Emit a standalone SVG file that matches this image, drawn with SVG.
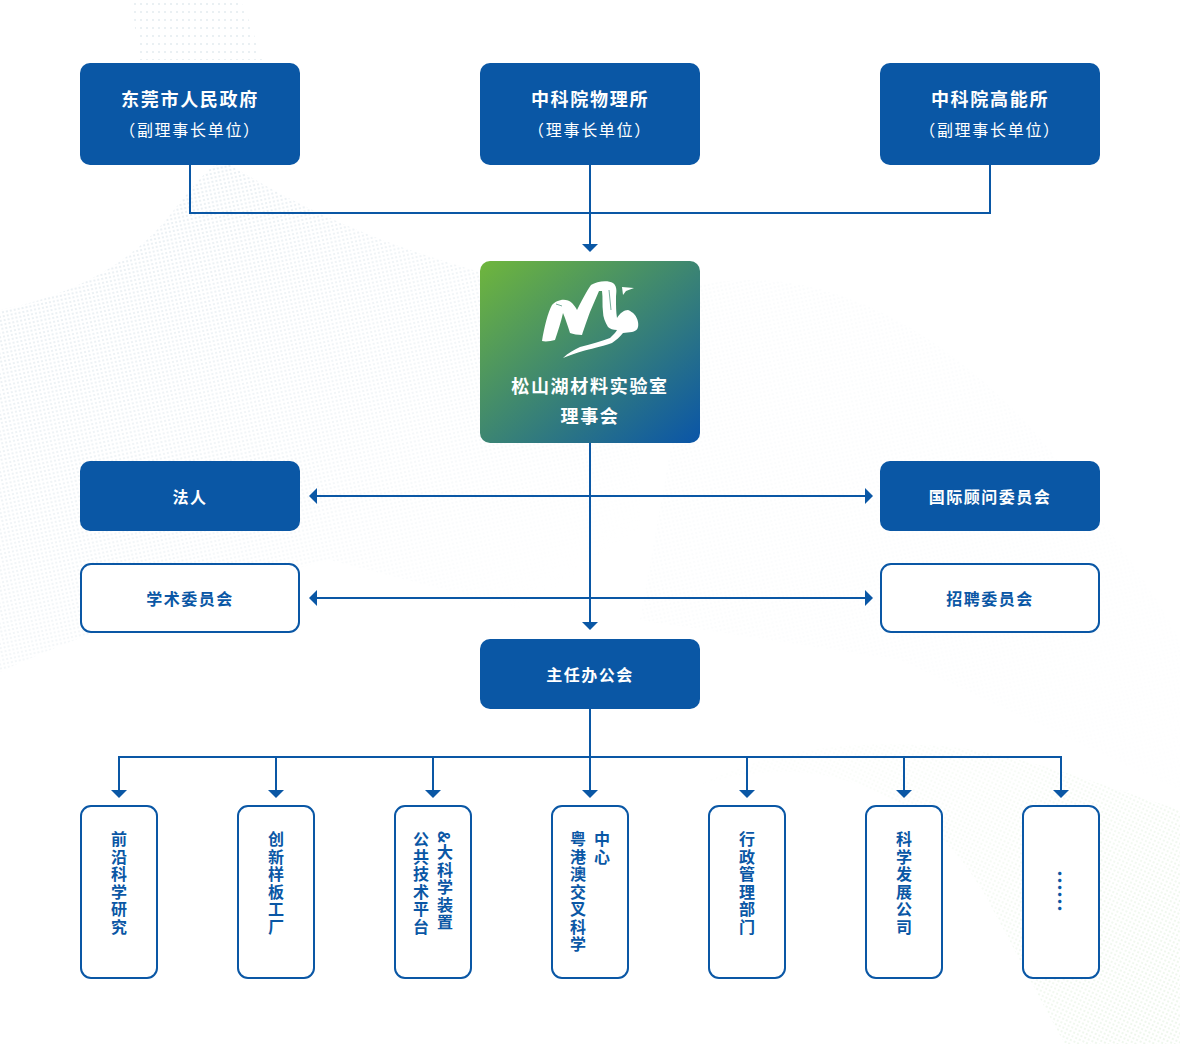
<svg xmlns="http://www.w3.org/2000/svg" width="1180" height="1044" viewBox="0 0 1180 1044">
<style>
text{font-family:"Noto Sans CJK SC","Noto Sans",sans-serif;text-anchor:middle}
.solid{fill:#0a57a5}
.out{fill:#fff;stroke:#0a57a5;stroke-width:2}
.t18{font-size:18px;font-weight:700;letter-spacing:1.7px;fill:#fff}
.s16{font-size:16px;letter-spacing:1.7px;fill:#fff}
.t16{font-size:16px;font-weight:700;letter-spacing:1.5px;fill:#fff}
.b16{font-size:16px;font-weight:700;letter-spacing:1.5px;fill:#0a57a5}
.v{font-size:16px;font-weight:700;letter-spacing:1.5px;fill:#0a57a5;writing-mode:vertical-rl;text-anchor:start}
.c{fill:none;stroke:#0a57a5;stroke-width:2}
.a{marker-end:url(#ah)}
.ab{marker-start:url(#ah);marker-end:url(#ah)}
</style>
<defs>
<marker id="ah" markerUnits="userSpaceOnUse" markerWidth="8" markerHeight="16" refX="0" refY="8" orient="auto-start-reverse"><path d="M0,0L8,8L0,16z" fill="#0a57a5"/></marker>
<linearGradient id="lg" x1="0" y1="0" x2="1" y2="1"><stop offset="0" stop-color="#6fb63c"/><stop offset="1" stop-color="#0a55a8"/></linearGradient>
<pattern id="d1" width="4" height="4" patternUnits="userSpaceOnUse" patternTransform="rotate(-12)"><circle cx="2" cy="2" r="1.1" fill="#d3dfe6"/></pattern>
<pattern id="d2" width="4" height="4" patternUnits="userSpaceOnUse" patternTransform="rotate(25)"><circle cx="2" cy="2" r="1.1" fill="#d6ead2"/></pattern>
<pattern id="d3" width="6" height="8" patternUnits="userSpaceOnUse"><circle cx="3" cy="4" r="1" fill="#e3ebef"/></pattern>
<linearGradient id="fa" gradientUnits="userSpaceOnUse" x1="100" y1="200" x2="420" y2="680"><stop offset="0" stop-color="#fff" stop-opacity=".6"/><stop offset=".55" stop-color="#fff" stop-opacity=".35"/><stop offset="1" stop-color="#fff" stop-opacity="0"/></linearGradient>
<linearGradient id="fb" gradientUnits="userSpaceOnUse" x1="700" y1="300" x2="1180" y2="800"><stop offset="0" stop-color="#fff" stop-opacity=".14"/><stop offset="1" stop-color="#fff" stop-opacity=".03"/></linearGradient>
<linearGradient id="fc" gradientUnits="userSpaceOnUse" x1="720" y1="760" x2="1120" y2="1040"><stop offset="0" stop-color="#fff" stop-opacity=".06"/><stop offset=".5" stop-color="#fff" stop-opacity=".25"/><stop offset="1" stop-color="#fff" stop-opacity=".5"/></linearGradient>
<mask id="ma" maskUnits="userSpaceOnUse" x="0" y="0" width="1180" height="1044"><rect width="1180" height="1044" fill="url(#fa)"/></mask>
<mask id="mb" maskUnits="userSpaceOnUse" x="0" y="0" width="1180" height="1044"><rect width="1180" height="1044" fill="url(#fb)"/></mask>
<mask id="mc" maskUnits="userSpaceOnUse" x="0" y="0" width="1180" height="1044"><rect width="1180" height="1044" fill="url(#fc)"/></mask>
</defs>
<rect width="1180" height="1044" fill="#fff"/>
<g id="background">
<path d="M132,0C134,20 136,40 140,60H262C256,40 248,15 240,0Z" fill="url(#d3)"/>
<path d="M0,310C70,296 130,265 170,215C190,190 205,170 222,160C280,195 350,235 480,272C540,295 600,330 640,400L640,640L330,560C210,590 90,630 0,672Z" fill="url(#d1)" mask="url(#ma)"/>
<path d="M700,285C820,260 950,330 1050,450C1110,530 1160,600 1180,640V790L900,660L640,620Z" fill="url(#d1)" mask="url(#mb)"/>
<path d="M700,785C830,745 930,800 985,895C1015,950 1040,1000 1065,1044H1180V810C1100,785 1040,760 960,748C860,738 770,748 700,785Z" fill="url(#d2)" mask="url(#mc)"/>
</g>
<g id="connectors">
<path class="c" d="M190,165V213H990V165"/>
<path class="c a" d="M590,165V244"/>
<path class="c a" d="M590,443V622"/>
<path class="c ab" d="M317,496H865"/>
<path class="c ab" d="M317,598H865"/>
<path class="c" d="M590,709V757"/>
<path class="c" d="M119,757H1061"/>
<path class="c a" d="M119,756V790"/>
<path class="c a" d="M276,757V790"/>
<path class="c a" d="M433,757V790"/>
<path class="c a" d="M590,757V790"/>
<path class="c a" d="M747,757V790"/>
<path class="c a" d="M904,757V790"/>
<path class="c a" d="M1061,756V790"/>
</g>
<g id="n-dongguan"><rect class="solid" x="80" y="63" width="220" height="102" rx="10"/><text class="t18" x="190" y="106">东莞市人民政府</text><text class="s16" x="190" y="136">（副理事长单位）</text></g>
<g id="n-iop"><rect class="solid" x="480" y="63" width="220" height="102" rx="10"/><text class="t18" x="590" y="106">中科院物理所</text><text class="s16" x="590" y="136">（理事长单位）</text></g>
<g id="n-ihep"><rect class="solid" x="880" y="63" width="220" height="102" rx="10"/><text class="t18" x="990" y="106">中科院高能所</text><text class="s16" x="990" y="136">（副理事长单位）</text></g>
<g id="n-council">
<rect x="480" y="261" width="220" height="182" rx="10" fill="url(#lg)"/>
<g id="logo" fill="#fff">
<path d="M542,341C544,328 548,312 552,305C556,300 566,297 572,303C574,305 576,308 577,310C581,302 586,292 591,285C597,281 608,280 613,283C618,287 616,293 616,298C616,306 616,312 617,318C620,313 624,310 628,310C633,312 637,316 638,322C639,328 637,331 632,332L623,333C620,337 616,340 612,343C600,347 590,349 583,351C575,353 569,356 563,358C568,353 574,350 580,347C592,344 602,341 610,338C613,335 616,332 617,330C613,330 610,329 608,327C605,322 603,317 603,312C602,305 603,298 602,291L599,291C596,298 593,305 590,312C587,320 584,329 582,335C578,335 573,334 570,333C568,327 566,320 563,313C561,322 558,331 555,340C551,341 546,342 542,341Z"/>
<path d="M622,287L634,288L626,291L623,295Z"/>
</g>
<path d="M609,290L611,310M562,306L556,304" stroke="#3f8c74" stroke-width=".7" fill="none"/>
<text class="t18" x="590" y="393">松山湖材料实验室</text><text class="t18" x="590" y="423">理事会</text>
</g>
<g id="n-legal"><rect class="solid" x="80" y="461" width="220" height="70" rx="10"/><text class="t16" x="190" y="503">法人</text></g>
<g id="n-advisory"><rect class="solid" x="880" y="461" width="220" height="70" rx="10"/><text class="t16" x="990" y="503">国际顾问委员会</text></g>
<g id="n-academic"><rect class="out" x="81" y="564" width="218" height="68" rx="10"/><text class="b16" x="190" y="605">学术委员会</text></g>
<g id="n-recruit"><rect class="out" x="881" y="564" width="218" height="68" rx="10"/><text class="b16" x="990" y="605">招聘委员会</text></g>
<g id="n-office"><rect class="solid" x="480" y="639" width="220" height="70" rx="10"/><text class="t16" x="590" y="681">主任办公会</text></g>
<g id="n-b1"><rect class="out" x="81" y="806" width="76" height="172" rx="10"/><text class="v" x="119" y="831">前沿科学研究</text></g>
<g id="n-b2"><rect class="out" x="238" y="806" width="76" height="172" rx="10"/><text class="v" x="276" y="831">创新样板工厂</text></g>
<g id="n-b3"><rect class="out" x="395" y="806" width="76" height="172" rx="10"/><text class="v" x="445" y="831">&amp;大科学装置</text><text class="v" x="421" y="831">公共技术平台</text></g>
<g id="n-b4"><rect class="out" x="552" y="806" width="76" height="172" rx="10"/><text class="v" x="602" y="831">中心</text><text class="v" x="578" y="831">粤港澳交叉科学</text></g>
<g id="n-b5"><rect class="out" x="709" y="806" width="76" height="172" rx="10"/><text class="v" x="747" y="831">行政管理部门</text></g>
<g id="n-b6"><rect class="out" x="866" y="806" width="76" height="172" rx="10"/><text class="v" x="904" y="831">科学发展公司</text></g>
<g id="n-b7"><rect class="out" x="1023" y="806" width="76" height="172" rx="10"/><text class="v" x="1061" y="870" style="font-size:21px;letter-spacing:0">……</text></g>
</svg>
